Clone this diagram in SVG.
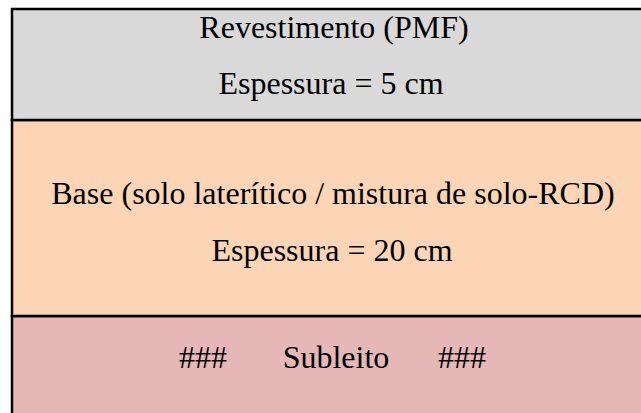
<svg xmlns="http://www.w3.org/2000/svg" width="641" height="413" viewBox="0 0 641 413">
  <style>
    .layer { stroke: #000000; stroke-width: 2.5; }
    .lbl { font-family: "Liberation Serif", "Times New Roman", serif; font-size: 32px; fill: #000000; text-anchor: middle; }
  </style>
  <rect x="0" y="0" width="641" height="413" fill="#FFFFFF"/>
  <g id="subleito">
    <rect class="layer" x="12" y="316" width="660" height="120" fill="#E5B8B7"/>
    <text class="lbl" x="203" y="368">###</text>
    <text class="lbl" x="336" y="368">Subleito</text>
    <text class="lbl" x="462" y="368">###</text>
  </g>
  <g id="base">
    <rect class="layer" x="12" y="120" width="660" height="196" fill="#FBD5B5"/>
    <text class="lbl" x="333" y="204">Base (solo laterítico / mistura de solo-RCD)</text>
    <text class="lbl" x="332" y="261">Espessura = 20 cm</text>
  </g>
  <g id="revestimento">
    <rect class="layer" x="12" y="9" width="660" height="111" fill="#D9D9D9"/>
    <text class="lbl" x="334" y="38">Revestimento (PMF)</text>
    <text class="lbl" x="331" y="94">Espessura = 5 cm</text>
  </g>
</svg>
